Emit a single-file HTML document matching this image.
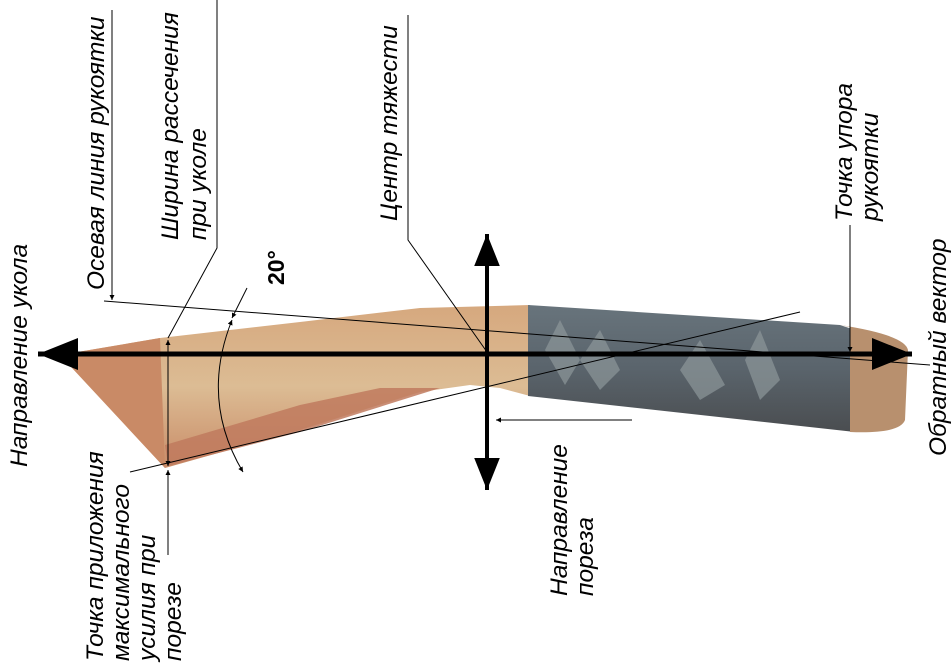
<!DOCTYPE html>
<html><head><meta charset="utf-8"><style>
html,body{margin:0;padding:0;background:#fff;}
svg{display:block;}
text{font-family:"Liberation Sans",Arial,sans-serif;font-style:italic;font-size:24.5px;fill:#000;}
</style></head><body>
<svg width="952" height="663" viewBox="0 0 952 663" xmlns="http://www.w3.org/2000/svg">
<defs>
<linearGradient id="bl" x1="0" y1="0" x2="0" y2="1">
<stop offset="0" stop-color="#d6a87e"/><stop offset="0.5" stop-color="#dcbc94"/><stop offset="1" stop-color="#c98c68"/>
</linearGradient>
<linearGradient id="hd" x1="0" y1="0" x2="0" y2="1">
<stop offset="0" stop-color="#68747c"/><stop offset="0.5" stop-color="#5a646c"/><stop offset="1" stop-color="#4a4d50"/>
</linearGradient>
<marker id="a" viewBox="0 0 10 10" refX="10" refY="5" markerWidth="8" markerHeight="8" orient="auto-start-reverse"><path d="M0,1 L10,5 L0,9 z" fill="#000"/></marker>
<marker id="A" viewBox="0 0 10 10" refX="10" refY="5" markerWidth="5" markerHeight="5" orient="auto-start-reverse"><path d="M0,0 L10,5 L0,10 z" fill="#000"/></marker>
</defs>
<!-- blade -->
<path d="M60,355 L160,338 L300,322 L420,308 L530,305 L530,396 L500,388 L470,385 L420,392 L300,430 L165,468 Z" fill="url(#bl)"/>
<path d="M60,355 L160,338 L165,468 Z" fill="#c98a66"/>
<path d="M165,445 L300,405 L380,388 L440,388 L300,432 L168,466 Z" fill="#bf7a5e" opacity="0.85"/>
<!-- handle -->
<path d="M528,305 L840,325 L855,330 L855,432 L528,396 Z" fill="url(#hd)"/>
<path d="M840,325 Q905,335 908,350 L905,420 Q900,434 850,432 L850,327 Z" fill="#b8906e"/>
<path d="M560,320 l20,40 l-15,25 l-20,-35z M600,330 l20,40 l-20,20 l-20,-30z M700,340 l25,45 l-25,15 l-20,-30z M760,330 l20,50 l-20,20 l-15,-40z" fill="#8d979a" opacity="0.7"/>
<!-- thick axes -->
<line x1="38" y1="354" x2="912" y2="354" stroke="#000" stroke-width="5" marker-start="url(#a)" marker-end="url(#a)"/>
<line x1="487" y1="234" x2="487" y2="490" stroke="#000" stroke-width="4" marker-start="url(#a)" marker-end="url(#a)"/>
<!-- thin lines -->
<g stroke="#000" stroke-width="1" fill="none">
<line x1="112" y1="10" x2="112" y2="300" marker-end="url(#A)"/>
<line x1="104" y1="301" x2="930" y2="365"/>
<line x1="130" y1="472" x2="800" y2="312"/>
<line x1="168" y1="340" x2="168" y2="466" marker-start="url(#A)" marker-end="url(#A)"/>
<line x1="168" y1="555" x2="168" y2="470" marker-end="url(#A)"/>
<polyline points="217,0 217,248 168,338"/>
<polyline points="408,15 408,240 487,352"/>
<line x1="850" y1="225" x2="850" y2="352" marker-end="url(#A)"/>
<line x1="632" y1="420" x2="496" y2="420" marker-end="url(#A)"/>
<line x1="247" y1="288" x2="232" y2="318" marker-end="url(#A)"/>
<path d="M232,320 Q200,400 243,472" marker-start="url(#A)" marker-end="url(#A)"/>
</g>
<!-- labels -->
<text transform="translate(27,467) rotate(-90)">Направление укола</text>
<text transform="translate(104,290) rotate(-90)">Осевая линия рукоятки</text>
<text transform="translate(178,240) rotate(-90)">Ширина рассечения</text>
<text transform="translate(206,240) rotate(-90)">при уколе</text>
<text transform="translate(284,285) rotate(-90)" style="font-style:normal;font-weight:bold;font-size:23px">20°</text>
<text transform="translate(397,221) rotate(-90)">Центр тяжести</text>
<text transform="translate(852,221) rotate(-90)">Точка упора</text>
<text transform="translate(878,221) rotate(-90)">рукоятки</text>
<text transform="translate(946,456) rotate(-90)">Обратный вектор</text>
<text transform="translate(103,661) rotate(-90)">Точка приложения</text>
<text transform="translate(129,661) rotate(-90)">максимального</text>
<text transform="translate(155,661) rotate(-90)">усилия при</text>
<text transform="translate(181,661) rotate(-90)">порезе</text>
<text transform="translate(567,596) rotate(-90)">Направление</text>
<text transform="translate(593,596) rotate(-90)">пореза</text>
</svg>
</body></html>
